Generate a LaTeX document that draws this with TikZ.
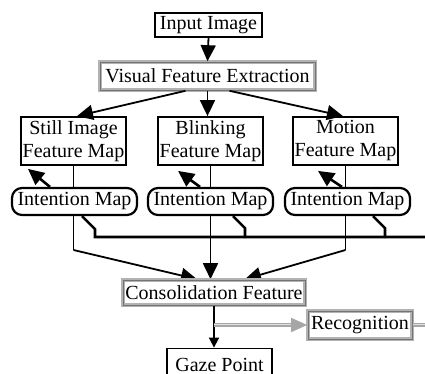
\documentclass[tikz,border=0pt]{standalone}
\usepackage{fontspec}
\setmainfont{Liberation Serif}
\usetikzlibrary{arrows.meta,backgrounds}
\tikzset{
  plainbox/.style={draw, line width=0.9pt, fill=white, inner sep=1pt, align=center, font=\fontsize{10}{11.5}\selectfont},
  graybox/.style={plainbox, draw=gray!60, line width=0.8pt, double=black!55, double distance=0.35pt},
  mapbox/.style={plainbox, minimum width=52.5pt, minimum height=24pt},
  intbox/.style={plainbox, rounded corners=5pt, line width=1.1pt, minimum width=62.5pt, minimum height=13.5pt},
  thinline/.style={line width=0.7pt},
  flowarrow/.style={line width=0.9pt, -{Triangle[length=8pt,width=7.5pt]}},
  smallarrow/.style={line width=0.9pt, -{Triangle[length=5pt,width=5pt]}},
  backarrow/.style={line width=1.3pt, -{Triangle[length=8pt,width=7.5pt]}},
  fbline/.style={line width=1.3pt},
  grayline/.style={draw=gray!70, line width=0.6pt, double=gray!25, double distance=0.5pt},
  grayarrow/.style={grayline, -{Triangle[length=8pt,width=7pt,fill=gray!70]}},
}
\begin{document}
\begin{tikzpicture}[x=0.5pt, y=-0.5pt]
  \useasboundingbox (0,0) rectangle (425,374);
  \clip (0,0) rectangle (425,374);
  % Boxes
  \node[plainbox, minimum width=53.5pt, minimum height=12pt] (input) at (208.5,25) {Input Image};
  \node[graybox, minimum width=107.5pt, minimum height=14pt] (vfe) at (207.5,76) {Visual Feature Extraction};

  \node[mapbox] (fm1) at (73.5,141) {Still Image\\Feature Map};
  \node[mapbox] (fm2) at (210.5,141) {Blinking\\Feature Map};
  \node[mapbox] (fm3) at (345.5,141) {Motion\\Feature Map};

  \node[intbox] (im1) at (74.5,201.5) {Intention Map};
  \node[intbox] (im2) at (210.5,201.5) {Intention Map};
  \node[intbox] (im3) at (347.5,201.5) {Intention Map};

  \node[graybox, minimum width=91pt, minimum height=12.5pt] (cons) at (214,292.5) {Consolidation Feature};
  \node[graybox, minimum width=52pt, minimum height=14pt] (recog) at (360,325) {Recognition};
  \node[plainbox, minimum width=52.5pt, minimum height=16pt] (gaze) at (219.5,364.5) {Gaze Point};

  \coordinate (bend) at (0,250);
  \coordinate (fbend) at (425,237);
  \coordinate (out) at (425,325);

  % Top flow
  \draw[flowarrow] (input.south) -- (vfe.north);
  \draw[flowarrow] ([xshift=-11pt]vfe.south) -- ([xshift=1.75pt]fm1.north);
  \draw[flowarrow] (vfe.south) -- (vfe.south |- fm2.north);
  \draw[flowarrow] ([xshift=11pt]vfe.south) -- ([xshift=-1.25pt]fm3.north);

  % Maps to consolidation (behind the intention maps)
  \begin{scope}[on background layer]
    \draw[thinline] (fm1.south) -- (fm1.south |- bend);
    \draw[flowarrow] (fm1.south |- bend) -- ([xshift=-8.5pt]cons.north);
    \draw[flowarrow] (fm2.south) -- (fm2.south |- cons.north);
    \draw[thinline] (fm3.south) -- (fm3.south |- bend);
    \draw[flowarrow] (fm3.south |- bend) -- ([xshift=15.5pt]cons.north);
  \end{scope}

  % Feedback to the feature maps
  \draw[backarrow] ([xshift=-12.25pt]im1.north) -- ++(-22,-18);
  \draw[backarrow] ([xshift=-5.25pt]im2.north) -- ++(-22,-16);
  \draw[backarrow] ([xshift=-2.75pt]im3.north) -- ++(-24,-16);

  \draw[fbline] ([xshift=3.75pt]im1.south) -- ++(13,13) |- (fbend);
  \draw[fbline] ([xshift=11.25pt]im2.south) -- ++(12,12) -- ++(0,10);
  \draw[fbline] ([xshift=12.75pt]im3.south) -- ++(12,12) -- ++(0,10);

  % Output
  \draw[smallarrow] (cons.south) -- (cons.south |- gaze.north);
  \draw[grayarrow] (cons.south |- recog.west) -- (recog.west);
  \draw[grayline] (recog.east) -- (out);
\end{tikzpicture}
\end{document}
